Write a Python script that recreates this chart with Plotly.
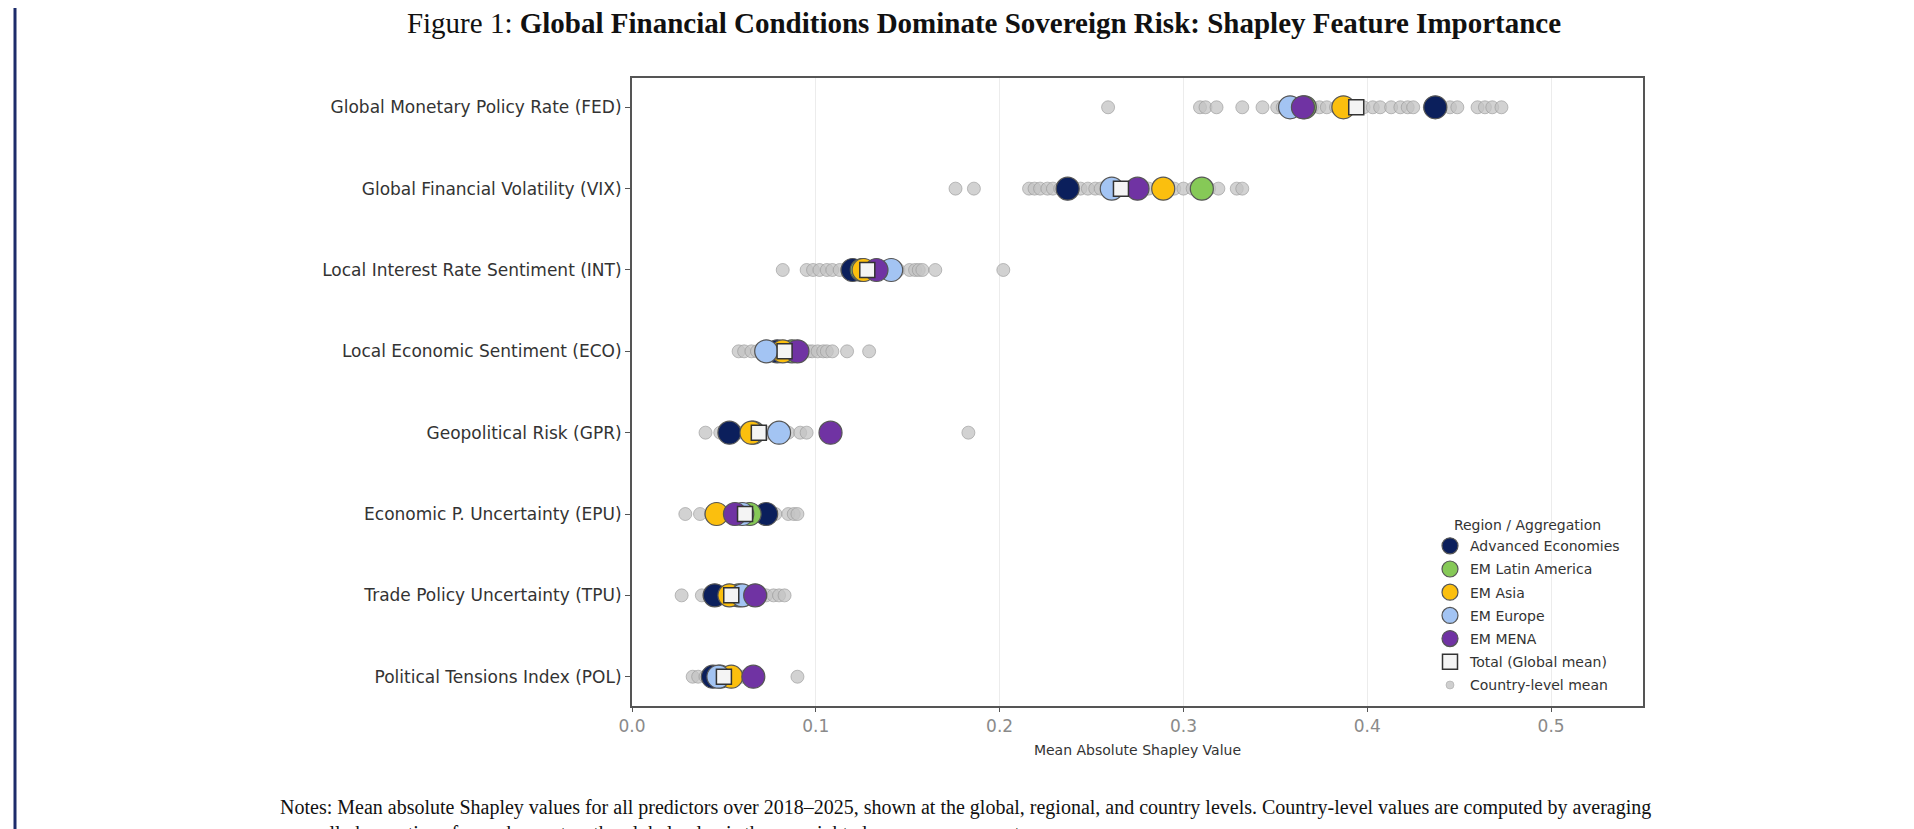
import plotly.graph_objects as go

features = [
    "Global Monetary Policy Rate (FED)",
    "Global Financial Volatility (VIX)",
    "Local Interest Rate Sentiment (INT)",
    "Local Economic Sentiment (ECO)",
    "Geopolitical Risk (GPR)",
    "Economic P. Uncertainty (EPU)",
    "Trade Policy Uncertainty (TPU)",
    "Political Tensions Index (POL)",
]

# country-level means (grey dots), one list per feature
country_FED = [0.259, 0.309, 0.312, 0.318, 0.332, 0.343, 0.351, 0.354, 0.356, 0.362, 0.370, 0.374,
               0.378, 0.383, 0.392, 0.398, 0.403, 0.407, 0.413, 0.418, 0.422, 0.425, 0.434, 0.440,
               0.445, 0.449, 0.460, 0.464, 0.468, 0.473]
country_VIX = [0.176, 0.186, 0.216, 0.219, 0.222, 0.226, 0.229, 0.233, 0.240, 0.244, 0.248, 0.252,
               0.255, 0.259, 0.264, 0.270, 0.281, 0.295, 0.300, 0.305, 0.314, 0.319, 0.329, 0.332]
country_INT = [0.082, 0.095, 0.0985, 0.102, 0.106, 0.109, 0.113, 0.117, 0.122, 0.130, 0.136, 0.145,
               0.151, 0.154, 0.156, 0.158, 0.165, 0.202]
country_ECO = [0.058, 0.061, 0.065, 0.068, 0.071, 0.076, 0.080, 0.087, 0.093, 0.096, 0.098, 0.101,
               0.104, 0.106, 0.109, 0.117, 0.129]
country_GPR = [0.040, 0.048, 0.052, 0.058, 0.062, 0.070, 0.074, 0.085, 0.0915, 0.095, 0.183]
country_EPU = [0.029, 0.037, 0.043, 0.050, 0.053, 0.058, 0.066, 0.070, 0.078, 0.085, 0.088, 0.090]
country_TPU = [0.027, 0.038, 0.042, 0.049, 0.052, 0.057, 0.062, 0.070, 0.073, 0.077, 0.080, 0.083]
country_POL = [0.033, 0.036, 0.040, 0.043, 0.046, 0.049, 0.052, 0.056, 0.060, 0.090]

country_lists = [country_FED, country_VIX, country_INT, country_ECO,
                 country_GPR, country_EPU, country_TPU, country_POL]

# regional means, ordered as features
regions = ["Advanced Economies", "EM Latin America", "EM Asia", "EM Europe", "EM MENA"]
adv_vals = [0.437, 0.237, 0.120, 0.079, 0.053, 0.073, 0.045, 0.044]
latam_vals = [0.366, 0.310, 0.125, 0.087, 0.066, 0.064, 0.058, 0.048]
asia_vals = [0.387, 0.289, 0.126, 0.082, 0.065, 0.046, 0.053, 0.054]
europe_vals = [0.358, 0.261, 0.141, 0.073, 0.080, 0.060, 0.060, 0.047]
mena_vals = [0.365, 0.275, 0.133, 0.090, 0.108, 0.056, 0.067, 0.066]
region_vals = [adv_vals, latam_vals, asia_vals, europe_vals, mena_vals]
region_colors = ["#0b1f5c", "#86c957", "#fbbf0e", "#a3c4f3", "#7033a3"]

total_vals = [0.394, 0.266, 0.128, 0.083, 0.069, 0.0615, 0.054, 0.050]

xticks = [0.0, 0.1, 0.2, 0.3, 0.4, 0.5]

fig = go.Figure()

# grey country dots
gx, gy = [], []
for feat, vals in zip(features, country_lists):
    for v in vals:
        gx.append(v)
        gy.append(feat)
fig.add_trace(go.Scatter(
    x=gx, y=gy, mode="markers", showlegend=False,
    marker=dict(size=13, color="rgba(195,195,195,0.75)",
                line=dict(color="rgba(150,150,150,0.6)", width=1)),
))
# legend-only entry for country dots
fig.add_trace(go.Scatter(
    x=[None], y=[None], mode="markers", name="Country-level mean",
    legendrank=7, legendgroup="g7",
    marker=dict(size=8, color="rgba(195,195,195,0.8)",
                line=dict(color="rgba(170,170,170,0.6)", width=1)),
))

for i, (name, vals, col) in enumerate(zip(regions, region_vals, region_colors)):
    fig.add_trace(go.Scatter(
        x=vals, y=features, mode="markers", name=name,
        legendrank=i + 1, legendgroup="g%d" % (i + 1),
        marker=dict(size=23, color=col, line=dict(color="#555555", width=1.2)),
    ))

fig.add_trace(go.Scatter(
    x=total_vals, y=features, mode="markers", name="Total (Global mean)",
    legendrank=6, legendgroup="g6",
    marker=dict(size=15, symbol="square", color="#f4f4f4",
                line=dict(color="#333333", width=1.5)),
))

# page offset (body margin) is 8px: work in reference pixels minus 8
OFF = 8
W, H = 1914 - OFF, 829 - OFF
L, R, T, B = 632 - OFF, 1914 - 1643, 78 - OFF, 829 - 706
pw, ph = W - L - R, H - T - B

def px_x(p):
    return (p - OFF - L) / pw

def px_y(p):
    return (H - B - (p - OFF)) / ph

fig.update_layout(
    width=W, height=H,
    margin=dict(l=L, r=R, t=T, b=B, pad=0),
    paper_bgcolor="white", plot_bgcolor="white",
    font=dict(family="DejaVu Sans", color="#333333"),
    title=dict(
        text="Figure 1: <b>Global Financial Conditions Dominate Sovereign Risk: Shapley Feature Importance</b>",
        x=(984 - OFF) / W, xanchor="center", y=1 - 5 / H, yanchor="top",
        font=dict(family="Liberation Serif, Times New Roman, serif", size=29, color="#111111"),
    ),
    xaxis=dict(
        range=[0, 0.55], tickvals=xticks, ticktext=["%.1f" % t for t in xticks],
        showgrid=True, gridcolor="#ececec", gridwidth=1, zeroline=False,
        showline=True, mirror=True, linecolor="#555555", linewidth=2,
        ticks="outside", ticklen=4, tickcolor="#555555",
        tickfont=dict(size=17, color="#8a8a8a"),
        title=dict(text="Mean Absolute Shapley Value", font=dict(size=14, color="#333333"), standoff=10),
    ),
    yaxis=dict(
        type="category", categoryorder="array", categoryarray=features,
        range=[7.36, -0.36], showgrid=False, zeroline=False,
        showline=True, mirror=True, linecolor="#555555", linewidth=2,
        ticks="outside", ticklen=5, tickcolor="#555555",
        tickfont=dict(size=17, color="#333333"),
    ),
    legend=dict(
        x=px_x(1430), y=px_y(512), xanchor="left", yanchor="top",
        bgcolor="rgba(255,255,255,0)", borderwidth=0,
        font=dict(size=14, color="#333333"),
        title=dict(text="Region / Aggregation", side="top center", font=dict(size=14, color="#333333")),
        tracegroupgap=2, itemsizing="trace",
    ),
    shapes=[dict(type="line", xref="paper", yref="paper",
                 x0=px_x(15), x1=px_x(15), y0=-0.5, y1=1.5,
                 line=dict(color="#1d2c6b", width=3))],
    annotations=[dict(
        text=("Notes: Mean absolute Shapley values for all predictors over 2018–2025, shown at the global, regional, and country levels. "
              "Country-level values are computed by averaging<br>"
              "over all observations for each country; the global value is the unweighted mean across country means."),
        xref="paper", yref="paper", x=px_x(278), y=px_y(794), xanchor="left", yanchor="top",
        align="left", showarrow=False,
        font=dict(family="Liberation Serif, Times New Roman, serif", size=20, color="#111111"),
    )],
)

fig.write_html("out.html")
